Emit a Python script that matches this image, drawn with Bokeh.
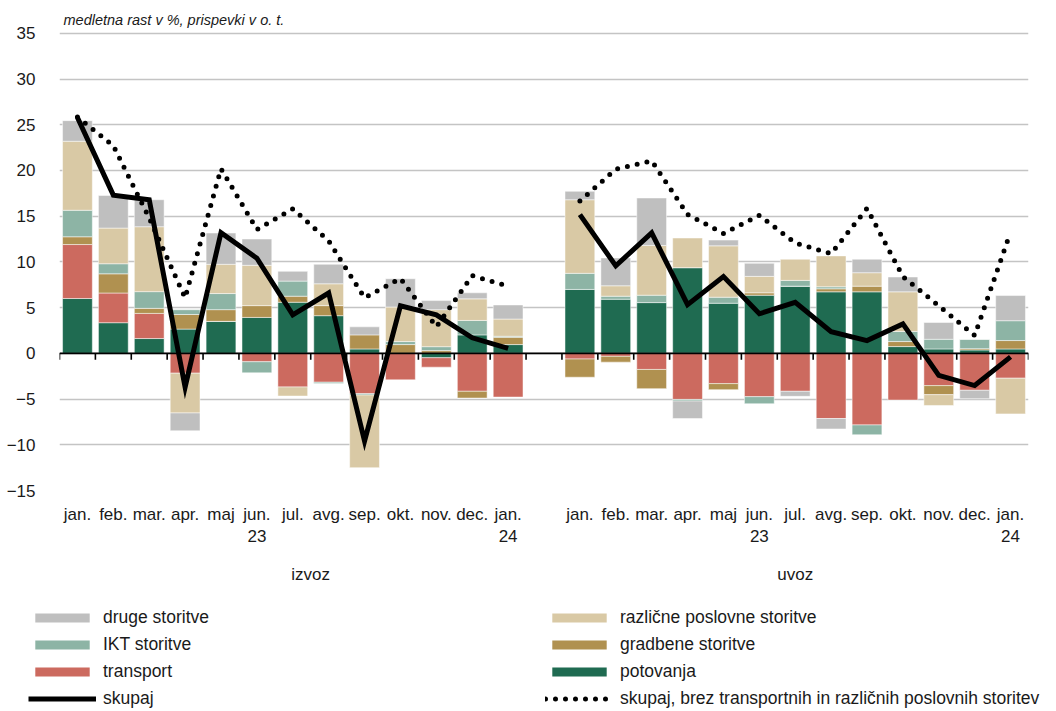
import numpy as np
from bokeh.plotting import figure
from bokeh.layouts import column
from bokeh.models import (Range1d, FixedTicker, LinearAxis, Legend, LegendItem, Span,
                          CustomJSTickFormatter)
from bokeh.embed import file_html
from bokeh.resources import INLINE

# ---------------- data ----------------
months = ["jan.", "feb.", "mar.", "apr.", "maj", "jun.", "jul.", "avg.", "sep.", "okt.", "nov.", "dec.", "jan."]
year_marks = {5: "23", 12: "24"}
groups = ["izvoz", "uvoz"]

series_names = ["potovanja", "transport", "gradbene storitve", "IKT storitve",
                "različne poslovne storitve", "druge storitve"]
series_colors = ["#1f6b51", "#cc6a5f", "#b09150", "#8db4a5", "#d9c9a5", "#bfbfbf"]

izvoz_potovanja = [6.0, 3.35, 1.62, 2.65, 3.5, 3.93, 5.59, 4.12, 0.48, 0.0, -0.48, 2.02, 0.96]
izvoz_transport = [5.9, 3.25, 2.75, -2.17, 0.0, -0.92, -3.68, -3.16, -4.41, -2.9, -1.03, -4.15, -4.78]
izvoz_gradbene = [0.85, 2.1, 0.55, 1.6, 1.28, 1.29, 0.66, 1.1, 1.54, 0.96, 0.3, -0.74, 0.8]
izvoz_ikt = [2.9, 1.1, 1.83, 0.52, 1.76, -1.21, 1.65, -0.15, -0.15, 0.33, 0.43, 1.58, 0.11]
izvoz_razlicne = [7.55, 3.9, 7.1, -4.35, 3.2, 4.41, -0.99, 2.39, -7.94, 3.78, 4.05, 2.36, 1.88]
izvoz_druge = [2.25, 3.57, 2.95, -1.95, 3.42, 2.87, 1.07, 2.13, 0.88, 3.09, 0.99, 0.66, 1.54]
izvoz_skupaj = [25.8, 17.3, 16.8, -3.7, 13.2, 10.4, 4.2, 6.6, -9.6, 5.2, 4.2, 1.7, 0.55]
izvoz_brez = [25.85, 22.7, 14.8, 6.07, 20.2, 13.55, 15.8, 12.3, 6.07, 8.2, 2.9, 8.5, 7.35]

uvoz_potovanja = [6.99, 5.92, 5.55, 9.375, 5.48, 6.36, 7.35, 6.73, 6.73, 0.74, 0.48, 0.37, 0.48]
uvoz_transport = [-0.62, -0.33, -1.76, -5.04, -3.31, -4.74, -4.15, -7.13, -7.83, -5.11, -3.53, -4.04, -2.72]
uvoz_gradbene = [-1.99, -0.63, -2.1, 0.0, -0.66, 0.26, 0.0, 0.33, 0.62, 0.55, -0.99, 0.14, 0.92]
uvoz_ikt = [1.76, 0.33, 0.81, -0.18, 0.66, -0.77, 0.63, 0.22, -1.07, 1.1, 1.06, 1.03, 2.17]
uvoz_razlicne = [8.05, 1.14, 5.44, 3.24, 5.62, 1.8, 2.31, 3.38, 1.47, 4.34, -1.18, 0.0, -3.9]
uvoz_druge = [0.92, 3.05, 5.19, -1.91, 0.63, 1.43, -0.55, -1.14, 1.47, 1.62, 1.84, -0.92, 2.75]
uvoz_skupaj = [15.17, 9.57, 13.18, 5.32, 8.39, 4.33, 5.58, 2.37, 1.39, 3.22, -2.41, -3.52, -0.39]
uvoz_brez = [16.65, 20.15, 21.05, 15.2, 13.1, 15.1, 12.07, 10.9, 15.85, 8.4, 5.2, 1.96, 13.25]

y_ticks = [-15, -10, -5, 0, 5, 10, 15, 20, 25, 30, 35]

# ---------------- layout helpers ----------------
FONT = "Liberation Sans"
TXT = "#1a1a1a"
FS = "17px"
n = len(months)
x_izvoz = np.arange(n)
x_uvoz = np.arange(n) + n + 1
x_all = np.concatenate([x_izvoz, x_uvoz])

izvoz_series = [izvoz_potovanja, izvoz_transport, izvoz_gradbene, izvoz_ikt, izvoz_razlicne, izvoz_druge]
uvoz_series = [uvoz_potovanja, uvoz_transport, uvoz_gradbene, uvoz_ikt, uvoz_razlicne, uvoz_druge]

W = 1048
p = figure(width=W, height=588, output_backend="svg", toolbar_location=None,
           x_range=Range1d(-0.5, 2 * n + 0.5), y_range=Range1d(-15, 35.2),
           min_border_left=59, min_border_right=20, min_border_top=31, min_border_bottom=98)
p.outline_line_color = None
p.background_fill_color = "white"

# title
p.title.text = "medletna rast v %, prispevki v o. t."
p.title.text_font = FONT
p.title.text_font_style = "italic"
p.title.text_font_size = "14.5px"
p.title.text_color = TXT
p.title.align = "left"
p.title.vertical_align = "middle"
p.title.offset = 4
p.title.standoff = 6

# grid
p.xgrid.grid_line_color = None
p.ygrid.ticker = FixedTicker(ticks=y_ticks)
p.ygrid.grid_line_color = "#c4c4c4"
p.ygrid.grid_line_width = 1.3

# y axis
p.yaxis.ticker = FixedTicker(ticks=y_ticks)
p.yaxis.axis_line_color = None
p.yaxis.major_tick_line_color = None
p.yaxis.minor_tick_line_color = None
p.yaxis.major_label_text_font = FONT
p.yaxis.major_label_text_font_size = FS
p.yaxis.major_label_text_color = TXT
p.yaxis.major_label_standoff = 18

# x axis: months
month_overrides = {}
for i, m in enumerate(months):
    lab = m + ("\n" + year_marks[i] if i in year_marks else "")
    month_overrides[int(x_izvoz[i])] = lab
    month_overrides[int(x_uvoz[i])] = lab
xa = p.xaxis[0]
xa.ticker = FixedTicker(ticks=[int(v) for v in x_all])
xa.major_label_overrides = month_overrides
xa.axis_line_color = None
xa.major_tick_line_color = None
xa.minor_tick_line_color = None
xa.major_tick_out = 0
xa.major_tick_in = 0
xa.major_label_standoff = 14
xa.major_label_text_font = FONT
xa.major_label_text_font_size = FS
xa.major_label_text_color = TXT

# group axis
ga = LinearAxis(ticker=FixedTicker(ticks=[(n + 1) / 2 - 0.5, n + 1 + (n + 1) / 2 - 1.0]),
                formatter=CustomJSTickFormatter(args=dict(g=groups, split=n),
                                                code="return tick < split ? g[0] : g[1];"))
ga.axis_line_color = None
ga.major_tick_line_color = None
ga.minor_tick_line_color = None
ga.major_tick_out = 0
ga.major_tick_in = 0
ga.major_label_standoff = 15
ga.major_label_text_font = FONT
ga.major_label_text_font_size = FS
ga.major_label_text_color = TXT
p.add_layout(ga, "below")

# ---------------- stacked bars (positive and negative stacked separately) ----------------
pos_cum = np.zeros(2 * n)
neg_cum = np.zeros(2 * n)
for name, color, iz, uv in zip(series_names, series_colors, izvoz_series, uvoz_series):
    vals = np.array(iz + uv, dtype=float)
    bottom = np.where(vals >= 0, pos_cum, neg_cum)
    top = bottom + vals
    pos_cum = np.where(vals >= 0, pos_cum + vals, pos_cum)
    neg_cum = np.where(vals < 0, neg_cum + vals, neg_cum)
    p.vbar(x=x_all, bottom=bottom, top=top, width=0.83, fill_color=color,
           line_color="white", line_width=0.7, line_alpha=0.7)

# zero line with category ticks
p.add_layout(Span(location=0, dimension="width", line_color="black", line_width=1.6))
bounds = np.arange(-0.5, 2 * n + 1, 1.0)
p.segment(x0=bounds, y0=np.zeros_like(bounds), x1=bounds, y1=np.full_like(bounds, -0.7),
          line_color="black", line_width=1.6)

# ---------------- lines ----------------
lx = np.concatenate([x_izvoz, [np.nan], x_uvoz]).astype(float)
sk = np.array(izvoz_skupaj + [np.nan] + uvoz_skupaj, dtype=float)
br = np.array(izvoz_brez + [np.nan] + uvoz_brez, dtype=float)
BREZ_STYLE = dict(line_color="black", line_width=5, line_dash="0 10", line_cap="round")
SK_STYLE = dict(line_color="black", line_width=5)
p.line(lx, br, **BREZ_STYLE)
p.line(lx, sk, line_join="miter", **SK_STYLE)

# ---------------- legend (separate strip below the chart) ----------------
lf = figure(width=W, height=123, output_backend="svg", toolbar_location=None,
            x_range=Range1d(0, 1), y_range=Range1d(0, 1), x_axis_type=None, y_axis_type=None,
            min_border_left=0, min_border_right=0, min_border_top=0, min_border_bottom=0)
lf.outline_line_color = None
lf.grid.visible = False
lf.title.visible = False
aligned_off = False
if "frame_align" in lf.properties():
    lf.frame_align = False
    p.frame_align = False
    aligned_off = True

# legend proxies: one invisible sample each (outside the legend strip's range)
proxy_x = [-5.0]
swatch = {}
for name, color in zip(series_names, series_colors):
    swatch[name] = lf.vbar(x=proxy_x, bottom=[0.0], top=[0.0], width=0.5,
                           fill_color=color, line_color=None)
r_sk = lf.line(x=[-5.0, -4.0], y=[0.0, 0.0], **SK_STYLE)
r_brez = lf.line(x=[-5.0, -4.0], y=[0.0, 0.0], **BREZ_STYLE)

items = [
    LegendItem(label="druge storitve", renderers=[swatch["druge storitve"]]),
    LegendItem(label="IKT storitve", renderers=[swatch["IKT storitve"]]),
    LegendItem(label="transport", renderers=[swatch["transport"]]),
    LegendItem(label="skupaj", renderers=[r_sk]),
    LegendItem(label="različne poslovne storitve", renderers=[swatch["različne poslovne storitve"]]),
    LegendItem(label="gradbene storitve", renderers=[swatch["gradbene storitve"]]),
    LegendItem(label="potovanja", renderers=[swatch["potovanja"]]),
    LegendItem(label="skupaj, brez transportnih in različnih poslovnih storitev", renderers=[r_brez]),
]
legend = Legend(items=items, ncols=2, location=(28 if aligned_off else -31, 2),
                glyph_width=68, glyph_height=11,
                label_standoff=7, spacing=6, label_width=436, padding=0, margin=0,
                border_line_alpha=0, background_fill_alpha=0,
                label_text_font=FONT, label_text_font_size="17.5px", label_text_color=TXT)
lf.add_layout(legend, "center")

layout = column(p, lf, spacing=0)
open("out.html", "w").write(file_html(layout, INLINE))
